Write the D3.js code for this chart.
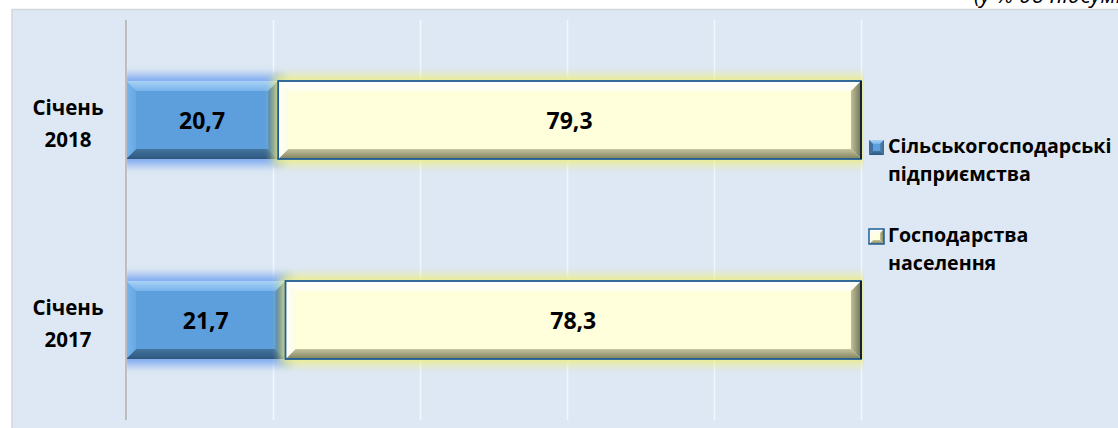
<!DOCTYPE html>
<html>
<head>
<meta charset="utf-8">
<script src="https://cdn.jsdelivr.net/npm/d3@7"></script>
<style>
    body { margin: 0; background: #ffffff; }
    svg { display: block; }
    text { font-family: "Open Sans", "Noto Sans", sans-serif; font-weight: bold; fill: #000; }
</style>
</head>
<body>
<svg id="chart" width="1118" height="428"></svg>
<script>
/**
 * Data
 */
var categories = ["Січень 2018", "Січень 2017"];
var seriesNames = ["Сільськогосподарські підприємства", "Господарства населення"];
var agriValues = [20.7, 21.7];
var householdValues = [79.3, 78.3];
var xTicks = [0, 20, 40, 60, 80, 100];
var unitNote = "(у % до підсумку)";

var W = 1118, H = 428;
var plot = {left: 126, right: 861, top: 20, bottom: 420};

var svg = d3.select("#chart");
var defs = svg.append("defs");

// soft glow filter
defs.append("filter")
    .attr("id", "glow")
    .attr("x", "-20%").attr("y", "-60%")
    .attr("width", "140%").attr("height", "220%")
    .append("feGaussianBlur")
    .attr("stdDeviation", 4);

defs.append("clipPath").attr("id", "plotClip")
    .append("rect")
    .attr("x", plot.left + 1).attr("y", plot.top - 20)
    .attr("width", plot.right - plot.left + 2).attr("height", plot.bottom - plot.top + 20);

function grad(id, c0, c1, vertical){
    var g = defs.append("linearGradient").attr("id", id)
        .attr("x1", 0).attr("y1", 0)
        .attr("x2", vertical ? 0 : 1).attr("y2", vertical ? 1 : 0);
    g.append("stop").attr("offset", "0%").attr("stop-color", c0);
    g.append("stop").attr("offset", "100%").attr("stop-color", c1);
}
grad("bTop", "#a9d2f6", "#78b3ea", true);
grad("bBot", "#44749f", "#2e577e", true);
grad("bRight", "#4f82b2", "#3b6891", false);
grad("bLeft", "#78b6ec", "#68a8e2", false);
grad("yTop", "#ffffff", "#fdfdf0", true);
grad("yBot", "#c4c49e", "#80805f", true);
grad("yRight", "#c0c098", "#74745a", false);
grad("yLeft", "#ffffff", "#fbfbe4", false);

var styles = [
    {fill: "#5d9fdc", top: "url(#bTop)", bot: "url(#bBot)", left: "url(#bLeft)", right: "url(#bRight)",
        glow: "#74a3ef", glowOp: 0.9, stroke: "none"},
    {fill: "#ffffdb", top: "url(#yTop)", bot: "url(#yBot)", left: "url(#yLeft)", right: "url(#yRight)",
        glow: "#ecec88", glowOp: 0.9, stroke: "#1e5d95"}
];

// panel background
svg.append("rect")
    .attr("x", 12).attr("y", 9.5)
    .attr("width", W).attr("height", H)
    .attr("fill", "#dde8f4")
    .attr("stroke", "#d3d6da")
    .attr("stroke-width", 1.5);

// unit note, clipped by the top of the picture like in the original
svg.append("text")
    .attr("x", 974).attr("y", 3)
    .style("font-family", "'Open Sans', sans-serif")
    .style("font-style", "italic")
    .style("font-weight", "normal")
    .style("font-size", "22px")
    .text(unitNote);

var x = d3.scaleLinear().domain([0, 100]).range([plot.left, plot.right]);
var y = d3.scaleBand().domain(categories)
    .range([plot.top, plot.bottom])
    .paddingInner(0.61).paddingOuter(0.305);

// gridlines
var grid = svg.append("g")
    .attr("transform", "translate(0," + plot.bottom + ")")
    .call(d3.axisBottom(x).tickValues(xTicks).tickSize(-(plot.bottom - plot.top)).tickFormat(""));
grid.select(".domain").remove();
grid.selectAll(".tick line").attr("stroke", "#f3f6fa").attr("stroke-width", 1.5);

// stack the two series
var rows = categories.map(function(c, i){
    return {cat: c, vals: [agriValues[i], householdValues[i]]};
});
var segs = [[], []];
rows.forEach(function(r){
    var acc = 0;
    r.vals.forEach(function(v, s){
        segs[s].push({cat: r.cat, s: s, v: v, x0: acc, x1: acc + v});
        acc += v;
    });
});

var fmt = d3.format(".1f");
var bev = 10;

function drawBevel(g, d, b){
    var st = styles[d.s];
    var xa = x(d.x0), xb = x(d.x1), ya = y(d.cat), yb = y(d.cat) + y.bandwidth();
    g.append("rect")
        .attr("x", xa).attr("y", ya).attr("width", xb - xa).attr("height", yb - ya)
        .attr("fill", st.fill);
    var polys = [
        [[xa, ya], [xb, ya], [xb - b, ya + b], [xa + b, ya + b], st.top],
        [[xa, yb], [xb, yb], [xb - b, yb - b], [xa + b, yb - b], st.bot],
        [[xa, ya], [xa + b, ya + b], [xa + b, yb - b], [xa, yb], st.left],
        [[xb, ya], [xb - b, ya + b], [xb - b, yb - b], [xb, yb], st.right]
    ];
    polys.forEach(function(p){
        g.append("polygon")
            .attr("points", p.slice(0, 4).map(function(q){ return q.join(","); }).join(" "))
            .attr("fill", p[4]);
    });
    if(st.stroke !== "none"){
        g.append("rect")
            .attr("x", xa).attr("y", ya).attr("width", xb - xa).attr("height", yb - ya)
            .attr("fill", "none").attr("stroke", st.stroke).attr("stroke-width", 1.8);
        g.append("line")
            .attr("x1", xb).attr("x2", xb).attr("y1", ya).attr("y2", yb)
            .attr("stroke", "#0d2436").attr("stroke-width", 2);
    }
}

segs.forEach(function(list, s){
    var st = styles[s];
    var layer = svg.append("g").attr("class", "series" + s);
    // glow first
    layer.append("g").attr("clip-path", "url(#plotClip)")
        .selectAll("rect")
        .data(list)
        .enter()
        .append("rect")
        .attr("x", function(d){ return x(d.x0) - 5; })
        .attr("y", function(d){ return y(d.cat) - 6; })
        .attr("width", function(d){ return x(d.x1) - x(d.x0) + 10; })
        .attr("height", y.bandwidth() + 12)
        .attr("fill", st.glow)
        .attr("opacity", st.glowOp)
        .attr("filter", "url(#glow)");
    list.forEach(function(d){
        drawBevel(layer.append("g"), d, bev);
    });
});

// data labels
svg.append("g").selectAll("text")
    .data(segs[0].concat(segs[1]))
    .enter()
    .append("text")
    .attr("x", function(d){ return (x(d.x0) + x(d.x1)) / 2; })
    .attr("y", function(d){ return y(d.cat) + y.bandwidth() / 2 + 9; })
    .attr("text-anchor", "middle")
    .style("font-size", "23px")
    .text(function(d){ return fmt(d.v).replace(".", ","); });

// value axis line
svg.append("line")
    .attr("x1", plot.left).attr("x2", plot.left)
    .attr("y1", plot.top).attr("y2", plot.bottom)
    .attr("stroke", "#bdbdbd").attr("stroke-width", 2);

// category labels
var catG = svg.append("g").selectAll("text")
    .data(categories)
    .enter()
    .append("text")
    .attr("text-anchor", "middle")
    .style("font-size", "20.5px");
catG.each(function(c){
    var parts = c.split(" ");
    var t = d3.select(this);
    parts.forEach(function(p, i){
        t.append("tspan")
            .attr("x", 68)
            .attr("y", y(c) + y.bandwidth() / 2 - 5 + i * 32)
            .text(p);
    });
});

// legend
var legend = svg.append("g").attr("class", "legend");
var legTop = [153, 242];
seriesNames.forEach(function(name, i){
    var g = legend.append("g");
    var st = styles[i];
    var mx = 869, my = legTop[i] - 13, ms = 15, b = 4;
    g.append("rect").attr("x", mx).attr("y", my).attr("width", ms).attr("height", ms).attr("fill", st.fill);
    var polys = [
        [[mx, my], [mx + ms, my], [mx + ms - b, my + b], [mx + b, my + b], st.top],
        [[mx, my + ms], [mx + ms, my + ms], [mx + ms - b, my + ms - b], [mx + b, my + ms - b], st.bot],
        [[mx, my], [mx + b, my + b], [mx + b, my + ms - b], [mx, my + ms], i === 0 ? "#3f6f9c" : st.left],
        [[mx + ms, my], [mx + ms - b, my + b], [mx + ms - b, my + ms - b], [mx + ms, my + ms], st.right]
    ];
    polys.forEach(function(p){
        g.append("polygon")
            .attr("points", p.slice(0, 4).map(function(q){ return q.join(","); }).join(" "))
            .attr("fill", p[4]);
    });
    if(st.stroke !== "none"){
        g.append("rect").attr("x", mx).attr("y", my).attr("width", ms).attr("height", ms)
            .attr("fill", "none").attr("stroke", st.stroke).attr("stroke-width", 1.5);
    }
    var t = g.append("text").style("font-size", "19.6px");
    name.split(" ").forEach(function(p, k){
        t.append("tspan").attr("x", 888).attr("y", legTop[i] + k * 28).text(p);
    });
});
</script>
</body>
</html>
